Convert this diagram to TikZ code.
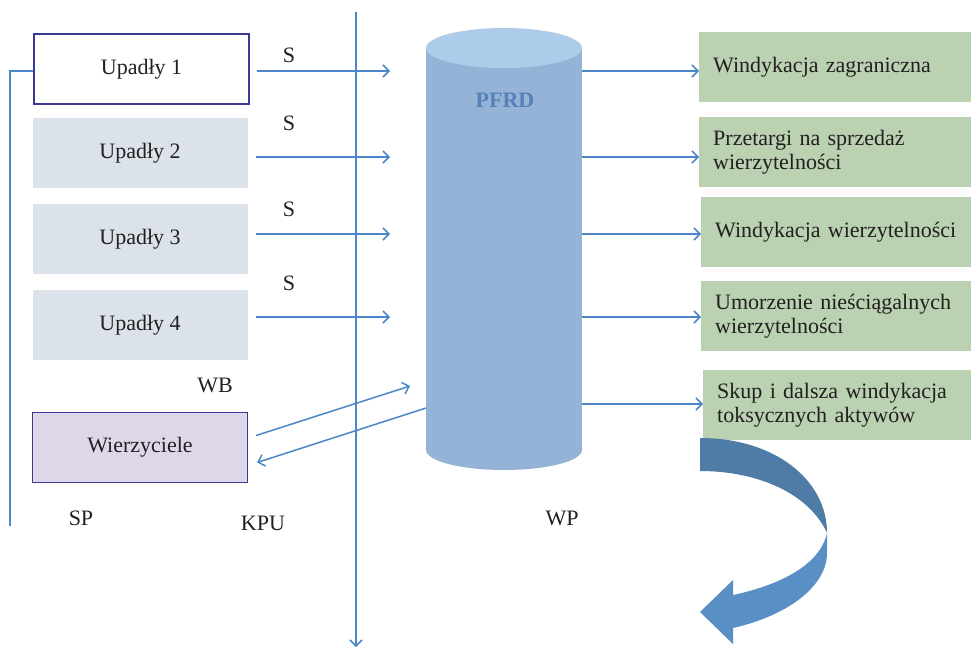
\documentclass[tikz,border=0pt]{standalone}
\usepackage{fontspec}
\setmainfont{Liberation Serif}
\usetikzlibrary{arrows.meta}

\definecolor{flow}{RGB}{75,135,200}
\definecolor{frame}{RGB}{58,58,150}
\definecolor{greybox}{RGB}{219,226,233}
\definecolor{lilac}{RGB}{224,214,234}
\definecolor{leaf}{RGB}{186,210,177}
\definecolor{cylbody}{RGB}{149,179,215}
\definecolor{cyltop}{RGB}{172,204,233}
\definecolor{pfrdtext}{RGB}{84,130,184}
\definecolor{bendtop}{RGB}{78,124,167}
\definecolor{bendlow}{RGB}{89,143,197}
\definecolor{ink}{RGB}{35,31,32}

\begin{document}
\begin{tikzpicture}[x=1pt,y=-1pt,
  every node/.style={font=\fontsize{22}{24}\selectfont, text=ink},
  debtor/.style={minimum width=215pt, minimum height=70pt, inner sep=0pt},
  plainbox/.style={debtor, fill=greybox},
  framedbox/.style={debtor, draw=frame, line width=1.2pt},
  outcome/.style={fill=leaf, minimum width=272pt, minimum height=70pt,
    text width=244pt, inner xsep=14pt, inner ysep=0pt, align=left, anchor=west},
  link/.style={draw=flow, line width=1.5pt},
  arrow/.style={link, -{Straight Barb[length=6pt,width=12pt,line width=1.5pt]}},
  tag/.style={inner sep=0pt}
]
\useasboundingbox (0,0) rectangle (971,648);

% debtors and creditors on the left
\node[framedbox, fill=white] (u1) at (141.5,69) {Upadły 1};
\node[plainbox] (u2) at (140,153) {Upadły 2};
\node[plainbox] (u3) at (140,239) {Upadły 3};
\node[plainbox] (u4) at (140,325) {Upadły 4};
\node[framedbox, fill=lilac] (wz) at (140,447.5) {Wierzyciele};

% bracket on the far left
\coordinate (lb) at (10,526);
\draw[link] ([yshift=-2pt]u1.west) -| (lb);

% the fund as a cylinder
\fill[cylbody] (426,48) rectangle (582,450);
\fill[cylbody] (504,450) ellipse [x radius=78, y radius=20];
\fill[cyltop] (504,48) ellipse [x radius=78, y radius=20];
\node[font=\fontsize{22}{24}\selectfont\bfseries, text=pfrdtext] (pfrd) at (505,100) {PFRD};

% vertical divider
\coordinate (vtop) at (356,12);
\coordinate (vbot) at (356,647);
\draw[arrow] (vtop) -- (vbot);

% flows from debtors into the fund
\coordinate (s1) at (390,71);
\coordinate (s2) at (390,157);
\coordinate (s3) at (390,234);
\coordinate (s4) at (390,317);
\draw[arrow] ([xshift=7pt]u1.east |- s1) -- (s1);
\draw[arrow] ([xshift=8pt]u2.east |- s2) -- (s2);
\draw[arrow] ([xshift=8pt]u3.east |- s3) -- (s3);
\draw[arrow] ([xshift=8pt]u4.east |- s4) -- (s4);
\node[tag] (l1) at (289,55) {S};
\node[tag] (l2) at (289,123) {S};
\node[tag] (l3) at (289,209) {S};
\node[tag] (l4) at (289,283) {S};

% exchange with creditors
\coordinate (w1) at (410,386);
\coordinate (w2) at (426,408);
\draw[arrow] ([xshift=8pt,yshift=12pt]wz.east) -- (w1);
\draw[arrow] (w2) -- ([xshift=9pt,yshift=-15pt]wz.east);

% outcomes on the right
\node[outcome] (g1) at (699,67) {Windykacja zagraniczna};
\node[outcome] (g2) at (699,152) {Przetargi na sprzedaż\\wierzytelności};
\node[outcome] (g3) at (701,232) {Windykacja wierzytelności};
\node[outcome] (g4) at (701,316) {Umorzenie nieściągalnych\\wierzytelności};
\node[outcome] (g5) at (703,405) {Skup i dalsza windykacja\\toksycznych aktywów};

\coordinate (r1) at (582,71);
\coordinate (r2) at (582,157);
\coordinate (r3) at (582,234);
\coordinate (r4) at (582,317);
\coordinate (r5) at (582,404);
\draw[arrow] (r1) -- (r1 -| g1.west);
\draw[arrow] (r2) -- (r2 -| g2.west);
\draw[arrow] (r3) -- (r3 -| g3.west);
\draw[arrow] (r4) -- (r4 -| g4.west);
\draw[arrow] (r5) -- (r5 -| g5.west);

% free labels
\node[tag] (wb) at (215,385) {WB};
\node[tag] (sp) at (81,518) {SP};
\node[tag] (kpu) at (263,523) {KPU};
\node[tag] (wp) at (562,518) {WP};

% curved return arrow
\fill[bendtop] (700,438) .. controls (775,438) and (827,480) .. (827,533)
  .. controls (810,495) and (760,471) .. (700,471) -- cycle;
\fill[bendlow] (827,533) -- (827,553)
  .. controls (827,585) and (790,615) .. (733,628)
  -- (733,644) -- (700,612) -- (733,580) -- (733,595)
  .. controls (780,585) and (820,565) .. (827,533) -- cycle;
\end{tikzpicture}
\end{document}
